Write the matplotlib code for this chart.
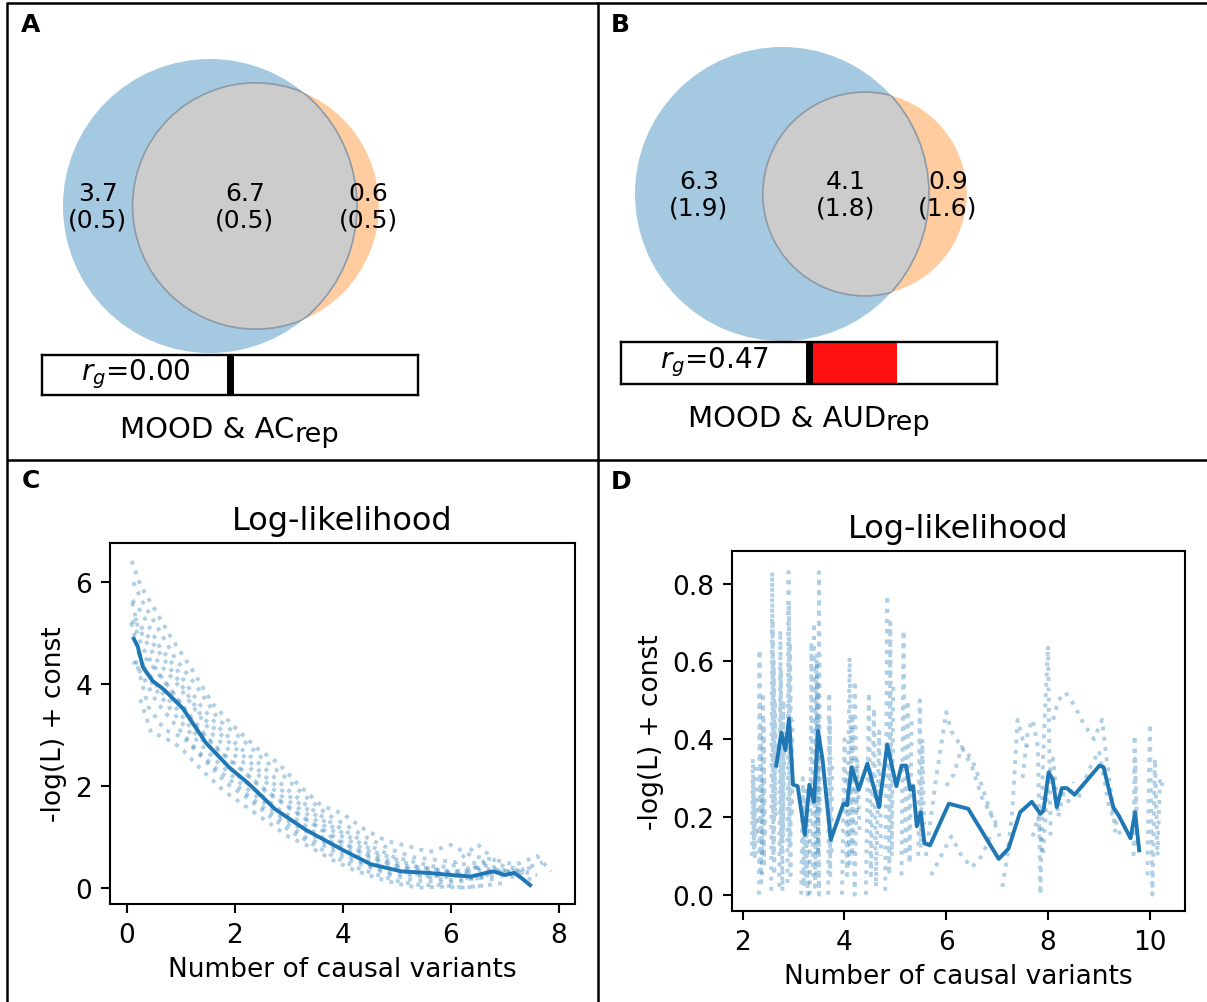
import math
import matplotlib
matplotlib.use("Agg")
import matplotlib.pyplot as plt
from matplotlib.patches import Circle

# ---------------- data ----------------
# Venn panels: (only first, shared, only second) and their SDs
venn_a_values = [3.7, 6.7, 0.6]
venn_a_sds = [0.5, 0.5, 0.5]
venn_b_values = [6.3, 4.1, 0.9]
venn_b_sds = [1.9, 1.8, 1.6]
rg_a = 0.00
rg_b = 0.47
title_a = ("MOOD & AC", "rep")
title_b = ("MOOD & AUD", "rep")

# Panel C: replicate curves (dotted) and mean curve
c_curves_x = [
    [0.09, 0.25, 0.5, 0.8, 1.2, 1.6, 2.0, 2.4, 2.8, 3.2, 3.6, 4.0, 4.4, 4.8, 5.2, 5.6, 6.0, 6.4, 6.8, 7.2, 7.6, 7.86],
    [0.12, 0.3, 0.55, 0.9, 1.3, 1.7, 2.1, 2.5, 2.9, 3.3, 3.7, 4.1, 4.5, 4.9, 5.3, 5.7, 6.1, 6.5, 6.9, 7.3, 7.7],
    [0.1, 0.28, 0.6, 0.95, 1.35, 1.75, 2.15, 2.55, 2.95, 3.35, 3.75, 4.15, 4.55, 4.95, 5.35, 5.75, 6.15, 6.55, 6.95, 7.35],
    [0.15, 0.35, 0.65, 1.0, 1.4, 1.8, 2.2, 2.6, 3.0, 3.4, 3.8, 4.2, 4.6, 5.0, 5.4, 5.8, 6.2, 6.6, 7.0],
    [0.1, 0.3, 0.6, 0.95, 1.3, 1.7, 2.1, 2.5, 2.9, 3.3, 3.7, 4.1, 4.5, 4.9, 5.3, 5.7, 6.1, 6.5, 6.9, 7.3, 7.55],
    [0.2, 0.4, 0.7, 1.05, 1.45, 1.85, 2.25, 2.65, 3.05, 3.45, 3.85, 4.25, 4.65, 5.05, 5.45, 5.85, 6.25, 6.65],
    [0.08, 0.25, 0.5, 0.85, 1.25, 1.65, 2.05, 2.45, 2.85, 3.25, 3.65, 4.05, 4.45, 4.85, 5.25, 5.65, 6.05, 6.45, 6.85, 7.25],
    [0.12, 0.3, 0.55, 0.9, 1.3, 1.7, 2.1, 2.5, 2.9, 3.3, 3.7, 4.1, 4.5, 4.9, 5.3, 5.7, 6.1, 6.5, 6.9],
    [0.2, 0.4, 0.7, 1.05, 1.45, 1.85, 2.25, 2.65, 3.05, 3.45, 3.85, 4.25, 4.65, 5.05, 5.45, 5.85, 6.25, 6.65, 7.05],
    [0.25, 0.45, 0.7, 1.0, 1.4, 1.8, 2.2, 2.6, 3.0, 3.4, 3.8, 4.2, 4.6, 5.0, 5.4, 5.8, 6.2, 6.6],
    [0.1, 0.2, 0.35, 0.6, 0.9, 1.2, 1.6, 2.0, 2.4, 2.8, 3.2, 3.6, 4.0, 4.4, 4.8, 5.2, 5.6, 6.0, 6.4, 6.8, 7.2, 7.5],
    [0.15, 0.35, 0.6, 0.9, 1.25, 1.6, 2.0, 2.4, 2.8, 3.2, 3.6, 4.0, 4.4, 4.8, 5.2, 5.6, 6.0, 6.4, 6.8, 7.2, 7.6],
]
c_curves_y = [
    [6.42, 5.95, 5.5, 4.95, 4.3, 3.6, 3.15, 2.75, 2.45, 2.0, 1.62, 1.45, 1.15, 0.92, 0.82, 0.7, 0.84, 0.62, 0.55, 0.45, 0.62, 0.32],
    [6.0, 5.6, 5.15, 4.5, 3.95, 3.3, 2.95, 2.55, 2.2, 1.8, 1.45, 1.2, 0.95, 0.75, 0.6, 0.55, 0.5, 0.85, 0.45, 0.35, 0.5],
    [5.65, 5.4, 4.75, 4.25, 3.6, 3.1, 2.7, 2.35, 1.95, 1.6, 1.3, 1.05, 0.8, 0.6, 0.5, 0.4, 0.45, 0.5, 0.35, 0.3],
    [5.3, 5.0, 4.55, 4.0, 3.35, 2.95, 2.55, 2.15, 1.8, 1.5, 1.2, 0.95, 0.7, 0.55, 0.4, 0.35, 0.3, 0.45, 0.3],
    [5.25, 4.7, 4.2, 3.7, 3.15, 2.7, 2.35, 1.95, 1.65, 1.35, 1.1, 0.82, 0.6, 0.45, 0.35, 0.3, 0.25, 0.35, 0.3, 0.25, 0.12],
    [4.65, 4.45, 4.05, 3.55, 3.0, 2.55, 2.2, 1.85, 1.55, 1.25, 0.95, 0.75, 0.55, 0.4, 0.3, 0.2, 0.25, 0.55],
    [5.2, 4.5, 3.95, 3.45, 2.95, 2.5, 2.1, 1.75, 1.4, 1.15, 0.9, 0.65, 0.45, 0.3, 0.25, 0.2, 0.15, 0.2, 0.25, 0.2],
    [4.45, 4.15, 3.65, 3.2, 2.7, 2.3, 1.95, 1.6, 1.3, 1.0, 0.8, 0.55, 0.4, 0.25, 0.15, 0.12, 0.1, 0.2, 0.15],
    [4.35, 3.55, 3.1, 2.95, 2.5, 2.05, 1.75, 1.4, 1.1, 0.85, 0.6, 0.4, 0.25, 0.12, 0.05, 0.05, 0.0, 0.05, 0.1],
    [3.7, 3.05, 2.95, 2.75, 2.3, 1.9, 1.6, 1.3, 1.0, 0.8, 0.55, 0.35, 0.2, 0.08, 0.0, 0.02, 0.0, 0.04],
    [5.6, 5.15, 4.85, 4.4, 4.05, 3.6, 3.0, 2.6, 2.25, 1.85, 1.55, 1.25, 1.0, 0.75, 0.55, 0.42, 0.38, 0.3, 0.4, 0.35, 0.3, 0.4],
    [4.45, 4.3, 3.9, 3.55, 3.05, 2.7, 2.25, 1.9, 1.55, 1.3, 1.0, 0.8, 0.55, 0.4, 0.3, 0.22, 0.3, 0.15, 0.3, 0.35, 0.25],
]
c_mean_x = [0.13, 0.2, 0.3, 0.48, 0.69, 1.04, 1.47, 1.9, 2.25, 2.75, 3.31, 4.02, 4.52, 5.09,
            5.59, 6.0, 6.37, 6.65, 6.79, 7.0, 7.18, 7.32, 7.47]
c_mean_y = [4.89, 4.75, 4.33, 4.06, 3.89, 3.52, 2.84, 2.36, 2.05, 1.54, 1.14, 0.73, 0.46, 0.32,
            0.29, 0.25, 0.22, 0.29, 0.32, 0.25, 0.29, 0.18, 0.05]

# Panel D: replicate curves (dotted) and mean curve
d_curves_x = [
    [2.18, 2.2, 2.22, 2.21, 2.24, 2.23, 2.26, 2.25],
    [2.32, 2.33, 2.35, 2.34, 2.36, 2.35, 2.38, 2.37, 2.4],
    [2.38, 2.4, 2.42, 2.41, 2.44],
    [2.56, 2.58, 2.6, 2.59, 2.62, 2.61, 2.64, 2.63, 2.66],
    [2.72, 2.74, 2.76, 2.75, 2.78, 2.8, 2.79, 2.82],
    [2.88, 2.9, 2.92, 2.91, 2.94, 2.93, 2.96, 2.98],
    [3.15, 3.18, 3.2, 3.22, 3.24, 3.26, 3.28, 3.25, 3.22],
    [3.32, 3.35, 3.38, 3.4, 3.42, 3.45, 3.48, 3.5, 3.52],
    [3.44, 3.46, 3.48, 3.47, 3.5, 3.49],
    [3.68, 3.7, 3.72, 3.71, 3.74, 3.76],
    [3.95, 4.0, 4.05, 4.1, 4.15, 4.2, 4.25],
    [4.05, 4.1, 4.15, 4.2, 4.25, 4.3],
    [4.42, 4.48, 4.52, 4.58, 4.62, 4.68, 4.72],
    [4.8, 4.84, 4.88, 4.9, 4.93, 4.96],
    [5.12, 5.16, 5.2, 5.24, 5.28, 5.32],
    [5.45, 5.48, 5.5, 5.53, 5.56],
    [5.6, 5.8, 6.0, 6.1, 6.3, 6.5, 6.7, 6.9, 7.05],
    [5.7, 5.9, 6.1, 6.3, 6.5, 6.7, 6.9],
    [6.0, 6.15, 6.3, 6.5, 6.7, 6.9, 7.0],
    [7.1, 7.2, 7.3, 7.4, 7.5, 7.6],
    [7.5, 7.6, 7.7, 7.8, 7.85, 7.9, 7.95, 8.0, 8.02, 8.05],
    [7.7, 7.8, 7.9, 8.0, 8.1, 8.2, 8.3, 8.4, 8.5],
    [8.1, 8.2, 8.34, 8.5, 8.7, 8.9, 9.06, 9.15, 9.25, 9.32],
    [8.6, 8.8, 9.0, 9.1, 9.2, 9.3, 9.45],
    [9.68, 9.7, 9.72, 9.71, 9.74],
    [9.95, 10.0, 10.05, 10.1, 10.15, 10.2, 10.25],
]
d_curves_y = [
    [0.1, 0.35, 0.12, 0.3, 0.09, 0.25, 0.15, 0.33],
    [0.0, 0.63, 0.05, 0.5, 0.02, 0.42, 0.1, 0.3, 0.2],
    [0.05, 0.52, 0.08, 0.45, 0.15],
    [0.01, 0.83, 0.1, 0.7, 0.05, 0.6, 0.2, 0.5, 0.33],
    [0.02, 0.68, 0.1, 0.58, 0.01, 0.5, 0.15, 0.42],
    [0.03, 0.83, 0.12, 0.75, 0.05, 0.65, 0.2, 0.45],
    [0.0, 0.3, 0.02, 0.28, 0.05, 0.25, 0.0, 0.18, 0.08],
    [0.0, 0.65, 0.05, 0.7, 0.02, 0.62, 0.1, 0.83, 0.2],
    [0.05, 0.6, 0.1, 0.55, 0.0, 0.45],
    [0.0, 0.52, 0.05, 0.45, 0.1, 0.35],
    [0.0, 0.4, 0.05, 0.61, 0.1, 0.55, 0.2],
    [0.3, 0.08, 0.45, 0.0, 0.35, 0.15],
    [0.0, 0.52, 0.05, 0.48, 0.02, 0.42, 0.1],
    [0.01, 0.77, 0.05, 0.7, 0.1, 0.55],
    [0.05, 0.68, 0.1, 0.5, 0.08, 0.45],
    [0.1, 0.5, 0.12, 0.4, 0.18],
    [0.1, 0.3, 0.47, 0.42, 0.38, 0.33, 0.25, 0.2, 0.15],
    [0.05, 0.1, 0.15, 0.1, 0.07, 0.1, 0.16],
    [0.28, 0.31, 0.38, 0.35, 0.28, 0.2, 0.18],
    [0.02, 0.1, 0.22, 0.45, 0.4, 0.38],
    [0.3, 0.42, 0.45, 0.38, 0.0, 0.35, 0.5, 0.64, 0.4, 0.15],
    [0.15, 0.2, 0.1, 0.3, 0.35, 0.2, 0.26, 0.24, 0.29],
    [0.45, 0.5, 0.52, 0.49, 0.44, 0.4, 0.45, 0.35, 0.25, 0.16],
    [0.25, 0.32, 0.37, 0.3, 0.22, 0.2, 0.14],
    [0.1, 0.41, 0.12, 0.35, 0.2],
    [0.05, 0.44, 0.0, 0.35, 0.1, 0.3, 0.28],
]
d_mean_x = [2.66, 2.76, 2.84, 2.91, 2.99, 3.08, 3.22, 3.31, 3.40, 3.48, 3.57, 3.73, 3.98, 4.05,
            4.14, 4.28, 4.45, 4.68, 4.84, 5.02, 5.12, 5.21, 5.29, 5.35, 5.42, 5.50, 5.57, 5.68,
            6.05, 6.31, 6.43, 7.03, 7.22, 7.45, 7.68, 7.85, 7.91, 8.01, 8.09, 8.17, 8.27, 8.37,
            8.52, 9.01, 9.09, 9.28, 9.39, 9.62, 9.71, 9.79]
d_mean_y = [0.332, 0.417, 0.372, 0.453, 0.283, 0.279, 0.154, 0.283, 0.239, 0.421, 0.346, 0.141,
            0.234, 0.230, 0.328, 0.270, 0.337, 0.225, 0.386, 0.279, 0.332, 0.332, 0.270, 0.279,
            0.176, 0.212, 0.132, 0.127, 0.234, 0.225, 0.221, 0.092, 0.118, 0.212, 0.239, 0.208,
            0.216, 0.314, 0.297, 0.225, 0.274, 0.274, 0.257, 0.332, 0.328, 0.225, 0.203, 0.145,
            0.212, 0.114]

# ---------------- styling ----------------
W, H = 1207, 1003
BLUE = "#a5c9e1"
ORANGE = "#ffcca0"
GRAY = "#cccccc"
EDGE = "#8d9aa6"
C0 = "#1f77b4"
TICK_FS = 19
TITLE_FS = 23

fig = plt.figure(figsize=(W / 100, H / 100), dpi=100)
renderer = fig.canvas.get_renderer()

# overlay in pixel coordinates
ov = fig.add_axes([0, 0, 1, 1])
ov.set_xlim(0, W)
ov.set_ylim(H, 0)
ov.axis("off")

# table grid lines
for xs, ys in [([7, 7], [3, H]), ([598, 598], [3, H]), ([7, W], [4, 4]), ([7, W], [461, 461])]:
    ov.plot(xs, ys, color="black", lw=1.8, solid_capstyle="butt", clip_on=False)

for lab, (x, y) in zip("ABCD", [(21, 25), (611, 25), (22, 481), (611, 482)]):
    ov.text(x, y, lab, fontsize=18, fontweight="bold", family="DejaVu Sans",
            ha="left", va="center")


def lens_area(r1, r2, d):
    if d >= r1 + r2:
        return 0.0
    if d <= abs(r1 - r2):
        return math.pi * min(r1, r2) ** 2
    a1 = r1 ** 2 * math.acos((d * d + r1 * r1 - r2 * r2) / (2 * d * r1))
    a2 = r2 ** 2 * math.acos((d * d + r2 * r2 - r1 * r1) / (2 * d * r2))
    a3 = 0.5 * math.sqrt((-d + r1 + r2) * (d + r1 - r2) * (d - r1 + r2) * (d + r1 + r2))
    return a1 + a2 - a3


def draw_venn(cx, cy, values, sds, scale=80.8):
    a_only, both, b_only = values
    ra = math.sqrt((a_only + both) / math.pi)
    rb = math.sqrt((b_only + both) / math.pi)
    lo, hi = abs(ra - rb) + 1e-9, ra + rb
    for _ in range(80):
        mid = 0.5 * (lo + hi)
        if lens_area(ra, rb, mid) > both:
            lo = mid
        else:
            hi = mid
    d = 0.5 * (lo + hi)
    Ra, Rb, D = ra * scale, rb * scale, d * scale
    blue = Circle((cx, cy), Ra, fc=BLUE, ec="none", zorder=1)
    orange = Circle((cx + D, cy), Rb, fc=ORANGE, ec="none", zorder=1)
    ov.add_patch(blue)
    ov.add_patch(orange)
    gray = Circle((cx + D, cy), Rb, fc=GRAY, ec=EDGE, lw=1.2, zorder=2)
    ov.add_patch(gray)
    gray.set_clip_path(blue)
    bedge = Circle((cx, cy), Ra, fc="none", ec=EDGE, lw=1.2, zorder=3)
    ov.add_patch(bedge)
    bedge.set_clip_path(orange)
    xl = (cx - Ra + cx + D - Rb) / 2
    xm = (cx + D - Rb + cx + Ra) / 2
    xr = (cx + Ra + cx + D + Rb) / 2
    for x, v, s in zip([xl, xm, xr], values, sds):
        ov.text(x, cy, f"{v:.1f}\n({s:.1f})", ha="center", va="center", fontsize=18,
                linespacing=1.15, zorder=5)


draw_venn(210, 207, venn_a_values, venn_a_sds)
draw_venn(782, 195, venn_b_values, venn_b_sds)


def draw_bar(x0, y0, x1, y1, rg):
    ax = fig.add_axes([x0 / W, 1 - y1 / H, (x1 - x0) / W, (y1 - y0) / H])
    ax.set_xlim(-1, 1)
    ax.set_ylim(0, 1)
    if rg > 0:
        ax.axvspan(0, rg, color="#ff1010", lw=0)
    ax.axvline(0, color="black", lw=5)
    ax.text(-0.5, 0.55, r"$r_g$=" + f"{rg:.2f}", ha="center", va="center", fontsize=20)
    ax.set_xticks([])
    ax.set_yticks([])
    for sp in ax.spines.values():
        sp.set_linewidth(1.7)
    return ax


draw_bar(42, 356, 418, 396, rg_a)
draw_bar(621, 343, 997, 385, rg_b)


def pair_title(cx, baseline, parts, fs_main=21, fs_sub=19.5, drop=3.5):
    main, sub = parts
    t1 = ov.text(0, baseline, main, fontsize=fs_main, ha="left", va="baseline")
    t2 = ov.text(0, baseline + drop, sub, fontsize=fs_sub, ha="left", va="baseline")
    w1 = t1.get_window_extent(renderer).width
    w2 = t2.get_window_extent(renderer).width
    x0 = cx - (w1 + w2) / 2
    t1.set_x(x0)
    t2.set_x(x0 + w1)


pair_title(230, 438, title_a)
pair_title(809, 427, title_b)


def style_axes(ax):
    for sp in ax.spines.values():
        sp.set_linewidth(1.5)
    ax.tick_params(labelsize=TICK_FS, width=1.5, length=6.5, pad=6.5)
    ax.set_title("Log-likelihood", fontsize=TITLE_FS, pad=10)
    ax.set_xlabel("Number of causal variants", fontsize=TICK_FS, labelpad=6)
    ax.set_ylabel("-log(L) + const", fontsize=TICK_FS, labelpad=6)


# Panel C
axc = fig.add_axes([110 / W, 1 - 905 / H, 465 / W, 361 / H])
for xs, ys in zip(c_curves_x, c_curves_y):
    axc.plot(xs, ys, ls=":", color=C0, alpha=0.35, lw=2.8)
axc.plot(c_mean_x, c_mean_y, color=C0, lw=2.8)
axc.set_xlim(-0.31, 8.3)
axc.set_ylim(-0.32, 6.77)
axc.set_xticks([0, 2, 4, 6, 8])
axc.set_yticks([0, 2, 4, 6])
style_axes(axc)

# Panel D
axd = fig.add_axes([732 / W, 1 - 912 / H, 453 / W, 360 / H])
for xs, ys in zip(d_curves_x, d_curves_y):
    axd.plot(xs, ys, ls=":", color=C0, alpha=0.35, lw=2.8)
axd.plot(d_mean_x, d_mean_y, color=C0, lw=2.8)
axd.set_xlim(1.79, 10.69)
axd.set_ylim(-0.042, 0.884)
axd.set_xticks([2, 4, 6, 8, 10])
axd.set_yticks([0.0, 0.2, 0.4, 0.6, 0.8])
style_axes(axd)

fig.savefig("out.png", dpi=100)
